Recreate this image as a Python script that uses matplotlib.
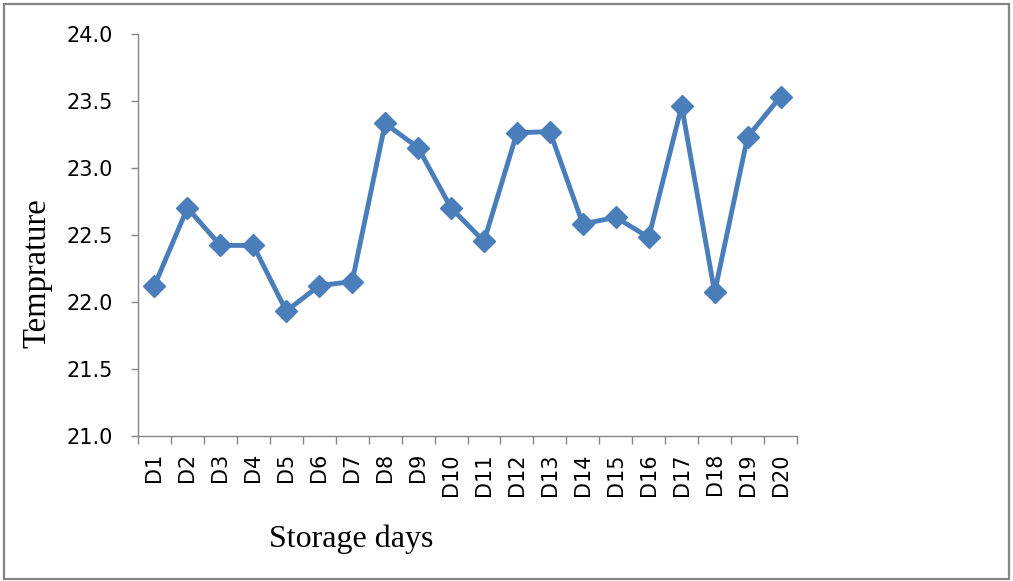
import numpy as np
import matplotlib
matplotlib.use('Agg')
import matplotlib.pyplot as plt
from matplotlib.patches import Rectangle

# storage days and measured temperature
days = ['D%d' % i for i in range(1, 21)]
temps = [22.12, 22.70, 22.42, 22.42, 21.93, 22.12, 22.15, 23.33, 23.15, 22.70,
         22.45, 23.26, 23.27, 22.58, 22.63, 22.48, 23.46, 22.07, 23.23, 23.53]
yticks = [21.0, 21.5, 22.0, 22.5, 23.0, 23.5, 24.0]

W, H = 1013, 581
fig = plt.figure(figsize=(W / 100, H / 100), dpi=100)
ax = fig.add_axes([138 / W, 1 - 435.7 / H, (797 - 138) / W, (435.7 - 33.7) / H])

x = np.arange(len(days))
ax.plot(x, temps, color='#4a7ebb', lw=3.5, marker='D', ms=11,
        mfc='#4a7ebb', mec='#4a7ebb', mew=1)

ax.set_xlim(-0.5, len(days) - 0.5)
ax.set_ylim(21.0, 24.0)
ax.set_yticks(yticks)
ax.set_yticklabels(['%.1f' % v for v in yticks], fontsize=15, family='DejaVu Sans')
ax.set_xticks(x)
ax.set_xticklabels(days, rotation=90, fontsize=15, family='DejaVu Sans', va='top')
ax.set_xticks(np.arange(-0.5, len(days)), minor=True)
ax.tick_params(axis='x', which='major', length=0, pad=12.5)
ax.tick_params(axis='x', which='minor', length=6, width=1, color='#868686', direction='out')
ax.tick_params(axis='y', length=5, width=1, color='#868686', direction='out', pad=13)

for s in ['top', 'right']:
    ax.spines[s].set_visible(False)
for s in ['left', 'bottom']:
    ax.spines[s].set_color('#868686')
    ax.spines[s].set_linewidth(1)

fig.text(37 / W, 1 - 273 / H, 'Temprature', rotation=90, ha='center', va='center',
         fontsize=23.5, family='Liberation Serif')
fig.text(351 / W, 1 - 539 / H, 'Storage days', ha='center', va='center',
         fontsize=23, family='Liberation Serif')

# outer frame
fig.patches.append(Rectangle((3.5 / W, 2 / H), 1005.5 / W, 575.5 / H, transform=fig.transFigure,
                             fill=False, ec='#858585', lw=1.6))

fig.savefig('out.png', dpi=100)
